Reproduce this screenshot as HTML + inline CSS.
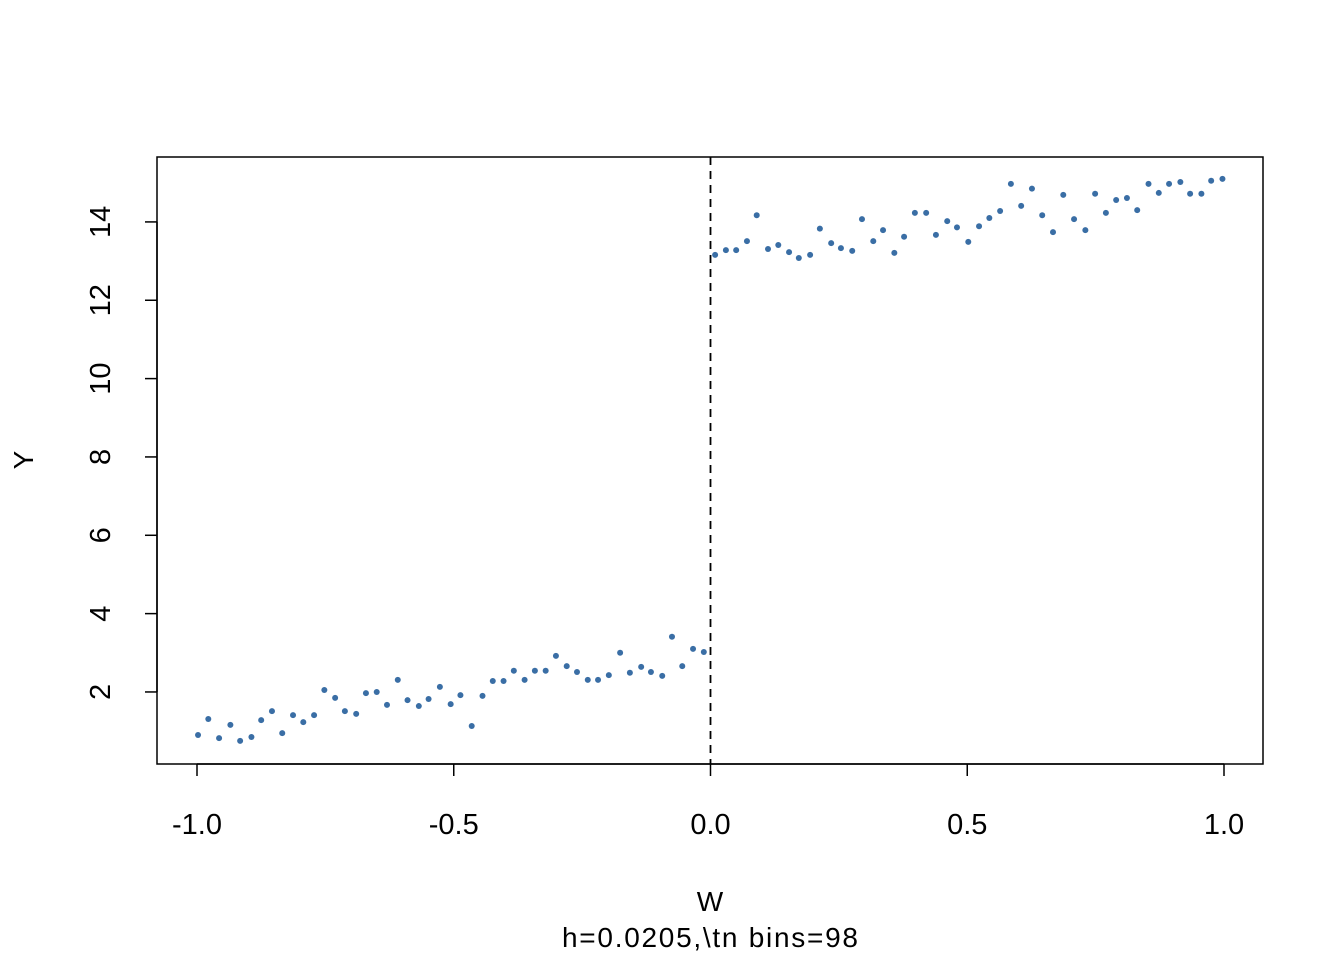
<!DOCTYPE html>
<html><head><meta charset="utf-8"><style>
html,body{margin:0;padding:0;background:#fff;}
svg{display:block;font-family:"Liberation Sans",Arial,sans-serif;}
</style></head><body>
<svg id="chart" width="1344" height="960" viewBox="0 0 1344 960" xmlns="http://www.w3.org/2000/svg">
<rect x="0" y="0" width="1344" height="960" fill="#fff"/>
<g id="axes"></g>
<g id="points"></g>
<rect x="157" y="157" width="1106" height="607" fill="none" stroke="#000" stroke-width="1.5"/>
<text x="710" y="911" font-size="28" text-anchor="middle">W</text>
<text x="710" y="947" font-size="28" text-anchor="middle" textLength="296" lengthAdjust="spacing">h=0.0205,\tn bins=98</text>
<text x="33" y="460" font-size="28" text-anchor="middle" transform="rotate(-90 33 460)">Y</text>
</svg>
<script>
const xTicks = [-1.0, -0.5, 0.0, 0.5, 1.0];
const xTickLabels = ["-1.0", "-0.5", "0.0", "0.5", "1.0"];
const yTicks = [2, 4, 6, 8, 10, 12, 14];
const yTickLabels = ["2", "4", "6", "8", "10", "12", "14"];
const cutoff = 0;
const binX = [-0.998,-0.978,-0.957,-0.935,-0.916,-0.894,-0.875,-0.854,-0.834,-0.813,-0.793,-0.772,-0.752,-0.731,-0.712,-0.690,-0.671,-0.650,-0.630,-0.609,-0.590,-0.568,-0.549,-0.527,-0.506,-0.487,-0.465,-0.444,-0.424,-0.403,-0.383,-0.362,-0.342,-0.321,-0.301,-0.280,-0.260,-0.239,-0.219,-0.198,-0.176,-0.157,-0.135,-0.116,-0.094,-0.075,-0.055,-0.034,-0.013,
0.009,0.030,0.050,0.071,0.090,0.112,0.132,0.153,0.172,0.194,0.213,0.235,0.254,0.276,0.295,0.317,0.336,0.358,0.377,0.398,0.420,0.439,0.461,0.480,0.502,0.523,0.543,0.564,0.585,0.605,0.626,0.646,0.667,0.687,0.708,0.730,0.749,0.770,0.790,0.811,0.831,0.853,0.873,0.893,0.915,0.934,0.956,0.975,0.997];
const binY = [0.90,1.31,0.82,1.16,0.75,0.85,1.28,1.51,0.95,1.41,1.23,1.41,2.05,1.85,1.51,1.44,1.97,2.00,1.67,2.31,1.79,1.64,1.82,2.13,1.69,1.92,1.13,1.90,2.28,2.28,2.54,2.31,2.54,2.54,2.92,2.66,2.51,2.31,2.31,2.43,3.00,2.49,2.64,2.51,2.41,3.41,2.66,3.10,3.02,
13.16,13.28,13.28,13.51,14.17,13.31,13.41,13.23,13.08,13.16,13.83,13.46,13.33,13.26,14.07,13.51,13.79,13.21,13.62,14.23,14.23,13.67,14.02,13.86,13.49,13.89,14.10,14.28,14.97,14.41,14.85,14.17,13.74,14.69,14.07,13.79,14.72,14.23,14.56,14.61,14.30,14.97,14.74,14.97,15.02,14.72,14.72,15.05,15.10];

const NS = "http://www.w3.org/2000/svg";
function sx(v){ return 710.5 + v * 513.5; }
function sy(v){ return 770.3 - v * 39.17; }
function mk(tag, attrs){ const e = document.createElementNS(NS, tag); for (const k in attrs) e.setAttribute(k, attrs[k]); return e; }

const axes = document.getElementById('axes');
const xl = mk('line', {x1: sx(xTicks[0]), x2: sx(xTicks[xTicks.length-1]), y1: 764, y2: 764, stroke: '#000', 'stroke-width': 1.5});


axes.appendChild(xl);
xTicks.forEach((t, i) => {
  const l = mk('line', {x1: sx(t), x2: sx(t), y1: 764, y2: 776, stroke: '#000', 'stroke-width': 1.5});
  
  
  axes.appendChild(l);
  const tx = mk('text', {x: sx(t), y: 834, 'font-size': 29, 'text-anchor': 'middle'});
  
  
  tx.textContent = xTickLabels[i];
  axes.appendChild(tx);
});
const yl = mk('line', {x1: 157, x2: 157, y1: sy(yTicks[0]), y2: sy(yTicks[yTicks.length-1]), stroke: '#000', 'stroke-width': 1.5});


axes.appendChild(yl);
yTicks.forEach((t, i) => {
  const l = mk('line', {x1: 145, x2: 157, y1: sy(t), y2: sy(t), stroke: '#000', 'stroke-width': 1.5});
  
  
  axes.appendChild(l);
  const x = 110, y = sy(t);
  const tx = mk('text', {x: x, y: y, 'font-size': 29, 'text-anchor': 'middle', transform: `rotate(-90 ${x} ${y})`});
  
  
  tx.textContent = yTickLabels[i];
  axes.appendChild(tx);
});
const cl = mk('line', {x1: sx(cutoff), x2: sx(cutoff), y1: 157, y2: 764, stroke: '#000', 'stroke-width': 1.8, 'stroke-dasharray': '8,6'});


axes.appendChild(cl);

const pts = document.getElementById('points');
binX.forEach((xv, i) => {
  const c = mk('circle', {cx: sx(xv), cy: sy(binY[i]), r: 3, fill: '#3a6ea5'});
  
  
  pts.appendChild(c);
});
</script>
</body></html>
